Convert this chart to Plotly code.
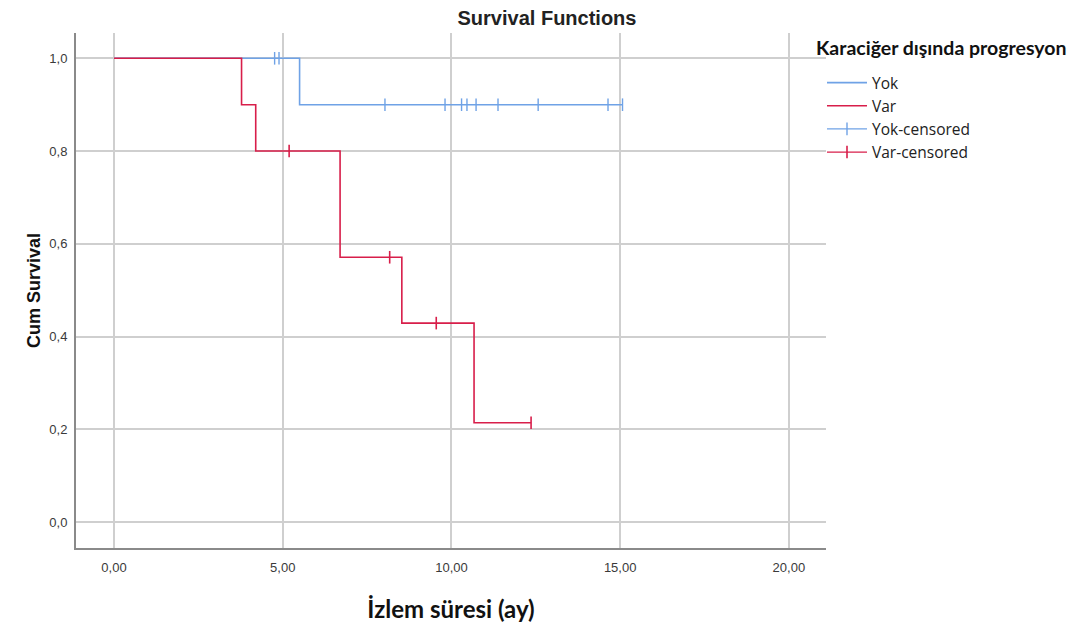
import plotly.graph_objects as go

# ---- data ----
yok_event_times = [0.0, 5.50]
yok_survival = [1.0, 0.9]
yok_censored_times = [4.76, 4.89, 8.03, 9.81, 10.30, 10.46, 10.73, 11.38, 12.57, 14.64, 15.07]

var_event_times = [0.0, 3.78, 4.20, 6.70, 8.53, 10.67]
var_survival = [1.0, 0.9, 0.8, 0.571, 0.429, 0.214]
var_censored_times = [5.19, 8.17, 9.55, 12.36]

x_ticks = [0, 5, 10, 15, 20]
x_ticklabels = ["0,00", "5,00", "10,00", "15,00", "20,00"]
y_ticks = [0.0, 0.2, 0.4, 0.6, 0.8, 1.0]
y_ticklabels = ["0,0", "0,2", "0,4", "0,6", "0,8", "1,0"]

BLUE = "#6fa2e6"
RED = "#d81e4a"

# page body has an 8px margin: the figure is placed 8px right/down
OFF = 8
W, H = 1083 - OFF, 627 - OFF
PL, PT, PW, PH = 76, 33, 750, 515  # plot area in screen pixels


def px_x(sx):
    return (sx - PL) / PW


def px_y(sy):
    return (PT + PH - sy) / PH


def surv_at(t, times, surv):
    s = surv[0]
    for tt, ss in zip(times, surv):
        if t >= tt:
            s = ss
    return s


def step_xy(times, surv, censored):
    end = max([times[-1]] + censored)
    return times + [end], surv + [surv[-1]]


def censor_xy(censored, times, surv):
    xs, ys = [], []
    for c in censored:
        xs += [c, None]
        ys += [surv_at(c, times, surv), None]
    return xs, ys


fig = go.Figure()

x, y = step_xy(yok_event_times, yok_survival, yok_censored_times)
fig.add_trace(go.Scatter(x=x, y=y, mode="lines", line=dict(shape="hv", color=BLUE, width=1.6),
                         name="Yok"))
x, y = step_xy(var_event_times, var_survival, var_censored_times)
fig.add_trace(go.Scatter(x=x, y=y, mode="lines", line=dict(shape="hv", color=RED, width=1.6),
                         name="Var"))
x, y = censor_xy(yok_censored_times, yok_event_times, yok_survival)
fig.add_trace(go.Scatter(x=x, y=y, mode="lines+markers", connectgaps=False,
                         line=dict(color=BLUE, width=1.2),
                         marker=dict(symbol="line-ns", size=9, line=dict(color=BLUE, width=1.4)),
                         name="Yok-censored"))
x, y = censor_xy(var_censored_times, var_event_times, var_survival)
fig.add_trace(go.Scatter(x=x, y=y, mode="lines+markers", connectgaps=False,
                         line=dict(color=RED, width=1.2),
                         marker=dict(symbol="line-ns", size=9, line=dict(color=RED, width=1.6)),
                         name="Var-censored"))

axis_font = dict(family="Liberation Sans, Arial", size=13, color="#3a3a3a")

fig.update_layout(
    width=W, height=H,
    margin=dict(l=PL - OFF, r=W - (PL - OFF) - PW, t=PT - OFF, b=H - (PT - OFF) - PH, autoexpand=False),
    paper_bgcolor="white", plot_bgcolor="white",
    title=dict(text="<b>Survival Functions</b>", x=px_x(547), xref="paper", xanchor="center",
               y=1 - (18 - OFF) / H, yanchor="middle",
               font=dict(family="Liberation Sans, Arial", size=20, color="#222")),
    xaxis=dict(range=[-1.126, 21.1], tickvals=x_ticks, ticktext=x_ticklabels, automargin=False,
               showgrid=True, gridcolor="#cfcfcf", gridwidth=2,
               showline=True, linecolor="#8a8a8a", linewidth=2, zeroline=False,
               ticks="", tickfont=axis_font, ticklabelstandoff=6,
               title=dict(text="<b>İzlem süresi (ay)</b>", standoff=28,
                          font=dict(family="Lato, Open Sans", size=24, color="#111"))),
    yaxis=dict(range=[-0.056, 1.0546], tickvals=y_ticks, ticktext=y_ticklabels, automargin=False,
               showgrid=True, gridcolor="#cfcfcf", gridwidth=2,
               showline=True, linecolor="#8a8a8a", linewidth=2, zeroline=False,
               ticks="", tickfont=axis_font, ticklabelstandoff=4,
               title=dict(text="<b>Cum Survival</b>", standoff=4,
                          font=dict(family="Liberation Sans, Arial", size=18, color="#111"))),
    legend=dict(x=px_x(822), y=px_y(66), xanchor="left", yanchor="top",
                bgcolor="rgba(0,0,0,0)", tracegroupgap=0, itemwidth=40,
                font=dict(family="Open Sans, Lato", size=15.5, color="#222")),
    annotations=[dict(text="<b>Karaciğer dışında progresyon</b>", xref="paper", yref="paper",
                      x=px_x(814), y=px_y(47), xanchor="left", yanchor="middle", showarrow=False,
                      font=dict(family="Lato, Open Sans", size=19.5, color="#111"))],
    showlegend=True,
)

fig.write_html("out.html")
